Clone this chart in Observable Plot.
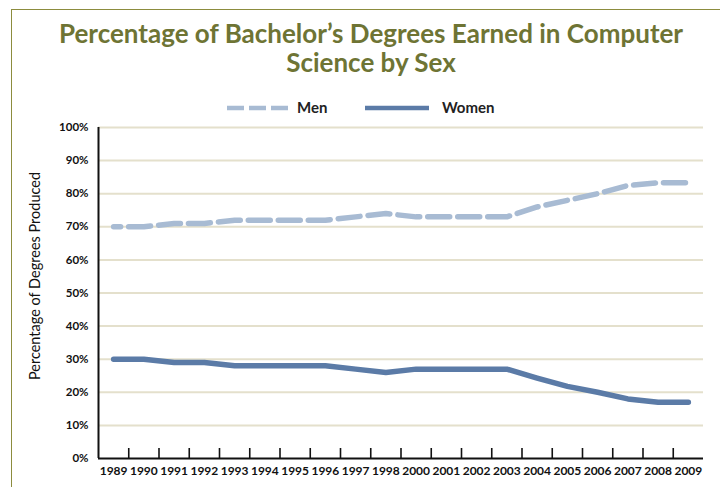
<!DOCTYPE html>
<html>
<head>
<meta charset="utf-8">
<script src="https://cdn.jsdelivr.net/npm/d3@7"></script>
<script src="https://cdn.jsdelivr.net/npm/@observablehq/plot@0.6"></script>
<style>
  html, body { margin: 0; padding: 0; background: #fff; }
  #page { position: relative; width: 720px; height: 487px; overflow: hidden; background: #fff; font-family: Lato, "Open Sans", sans-serif; }
  #frame { position: absolute; left: 11px; top: 9px; width: 720px; height: 490px; border-left: 1.5px solid #8c8c3e; border-top: 1.5px solid #8c8c3e; }
  #title { position: absolute; left: 0; top: 19px; width: 742px; text-align: center; color: #6e7434; font-weight: 700; font-size: 26px; line-height: 29px; }
  #legend { position: absolute; left: 0; top: 97px; height: 22px; width: 720px; }
  #chart { position: absolute; left: 0; top: 115px; }
</style>
</head>
<body>
<div id="page">
  <div id="frame"></div>
  <div id="title">Percentage of Bachelor’s Degrees Earned in Computer<br>Science by Sex</div>
  <svg id="legend" width="720" height="22"></svg>
  <div id="chart"></div>
</div>
<script>
const years = ["1989","1990","1991","1992","1993","1994","1995","1996","1997","1998","2000","2001","2002","2003","2004","2005","2006","2007","2008","2009"];
const men   = [70, 70, 71, 71, 72, 72, 72, 72, 73, 74, 73, 73, 73, 73, 76, 78, 80, 82.5, 83.3, 83.3];
const women = [30, 30, 29, 29, 28, 28, 28, 28, 27, 26, 27, 27, 27, 27, 24.3, 21.8, 20, 18, 17, 17];
const yTicks = [0, 10, 20, 30, 40, 50, 60, 70, 80, 90, 100];
const seriesNames = ["Men", "Women"];
const seriesColors = ["#a8bbd3", "#5b7ba7"];
const yLabel = "Percentage of Degrees Produced";

const idx = years.map((_, i) => i);
const menData = idx.map(i => ({i, v: men[i]}));
const womenData = idx.map(i => ({i, v: women[i]}));
const boundaries = idx.slice(1).map(i => i - 0.5);

// legend
const lg = d3.select("#legend");
lg.append("line").attr("x1", 227).attr("x2", 290).attr("y1", 11).attr("y2", 11)
  .attr("stroke", seriesColors[0]).attr("stroke-width", 4.5).attr("stroke-dasharray", "17,5");
lg.append("text").attr("x", 297).attr("y", 16).text(seriesNames[0])
  .attr("font-family", "Lato, sans-serif").attr("font-size", 15).attr("font-weight", 700).attr("fill", "#222");
lg.append("line").attr("x1", 365).attr("x2", 429).attr("y1", 11).attr("y2", 11)
  .attr("stroke", seriesColors[1]).attr("stroke-width", 4.5);
lg.append("text").attr("x", 442).attr("y", 16).text(seriesNames[1])
  .attr("font-family", "Lato, sans-serif").attr("font-size", 15).attr("font-weight", 700).attr("fill", "#222");

const chart = Plot.plot({
  width: 720,
  height: 372,
  marginTop: 12,
  marginBottom: 29,
  marginLeft: 98,
  marginRight: 17,
  style: { fontFamily: "Lato, sans-serif", background: "transparent", color: "#111", overflow: "visible" },
  x: { type: "linear", domain: [-0.5, years.length - 0.5] },
  y: { domain: [0, 100] },
  marks: [
    Plot.ruleY(yTicks.slice(1), { stroke: "#e4e0cc", strokeWidth: 2 }),
    Plot.axisY({ ticks: yTicks, tickSize: 0, tickPadding: 10, tickFormat: d => d + "%", fontSize: 11.5, fontWeight: 700, label: null }),
    Plot.axisX({ ticks: idx, tickSize: 0, tickPadding: 8, tickFormat: i => years[i], fontSize: 12, fontWeight: 700, label: null }),
    Plot.axisX({ ticks: boundaries, tickSize: 10, dy: -10, tickFormat: () => "", strokeWidth: 1.6, stroke: "#111", label: null }),
    Plot.line(menData, { x: "i", y: "v", stroke: seriesColors[0], strokeWidth: 5.5, strokeDasharray: "22,8", strokeDashoffset: 15, curve: "linear" }),
    Plot.line(womenData, { x: "i", y: "v", stroke: seriesColors[1], strokeWidth: 5.5, curve: "linear" }),
    Plot.ruleX([-0.5], { stroke: "#111", strokeWidth: 2 }),
    Plot.ruleY([0], { stroke: "#111", strokeWidth: 2 }),
    Plot.text([yLabel], { frameAnchor: "left", textAnchor: "middle", rotate: -90, dx: -63, dy: -17, fontSize: 14.5, fill: "#111" })
  ]
});
document.getElementById("chart").appendChild(chart);
</script>
</body>
</html>
